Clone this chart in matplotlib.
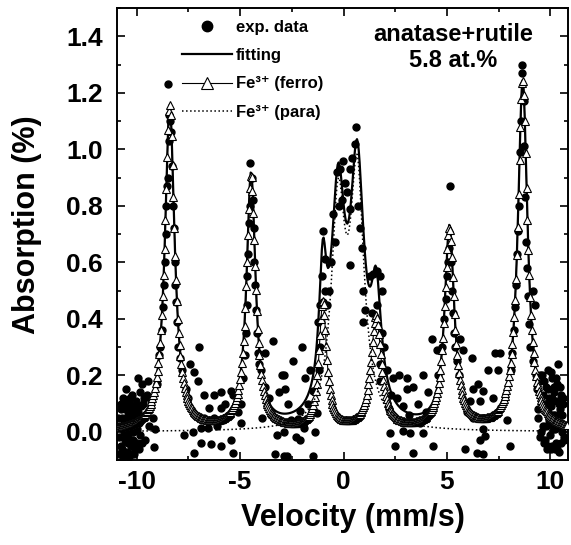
import matplotlib.pyplot as plt
import numpy as np

plt.rcParams['font.family'] = ['Liberation Sans', 'DejaVu Sans']
plt.rcParams['font.weight'] = 'bold'
plt.rcParams['axes.unicode_minus'] = False

# fitted sub-spectra (centre mm/s, height %, half width mm/s)
ferro_pos = [-8.40, -4.47, -1.00, 1.58, 5.12, 8.66]
ferro_height = [1.15, 0.90, 0.45, 0.40, 0.71, 1.24]
ferro_hwhm = [0.28, 0.26, 0.22, 0.30, 0.28, 0.28]

para_pos = [-0.26, 0.66]
para_height = [0.76, 0.86]
para_hwhm = [0.40, 0.40]

# measured points
vel_exp = [
    # left edge cluster
    -10.85, -10.80, -10.78, -10.75, -10.70, -10.68, -10.65, -10.60, -10.58, -10.55,
    -10.50, -10.48, -10.45, -10.42, -10.40, -10.38, -10.35, -10.32, -10.30, -10.28,
    -10.25, -10.22, -10.20, -10.18, -10.15, -10.12, -10.10, -10.05, -10.02, -10.00,
    -9.95, -9.92, -9.90, -9.85, -9.82, -9.78, -9.75, -9.70, -9.65, -9.60,
    -9.45, -9.40, -9.30, -9.20, -9.10, -9.15,
    -10.88, -10.83, -10.76, -10.72, -10.63, -10.61, -10.56, -10.52, -10.46, -10.43,
    -10.36, -10.33, -10.26, -10.24, -10.16, -10.13, -10.08, -10.04, -9.98, -9.88,
    -9.80, -9.72, -9.68, -9.58, -9.52,
    # line 1
    -9.00, -8.90, -8.85, -8.78, -8.72, -8.68, -8.64, -8.60, -8.56, -8.52,
    -8.50, -8.46, -8.48, -8.42, -8.38, -8.33, -8.28, -8.24, -8.20, -8.17,
    -8.14, -8.10, -8.06, -7.98, -7.92, -7.82,
    # between lines 1 and 2
    -7.40, -7.22, -7.05, -7.00, -6.76, -6.28, -5.94, -5.46, -5.32, -5.94,
    -6.52, -6.28, -6.76, -7.29, -6.91, -6.57, -6.91, -6.42, -5.94, -7.22,
    -5.32, -5.46, -4.95, -7.62, -7.52, -5.72, -5.12, -5.82, -6.12, -7.72,
    # line 2
    -4.95, -4.85, -4.77, -4.73, -4.68, -4.65, -4.61, -4.57, -4.53, -4.50,
    -4.42, -4.39, -4.35, -4.32, -4.27, -4.24, -4.19, -4.14, -4.07, -3.97,
    # between lines 2 and 3
    -3.78, -3.42, -2.90, -3.12, -3.22, -3.29, -2.90, -2.96, -2.42, -2.82,
    -1.85, -2.67, -2.09, -2.22, -1.92, -2.90, -2.72, -1.46, -2.09, -1.61,
    -1.46, -1.27, -1.37, -3.62, -3.52, -2.52, -3.82, -3.92, -2.32, -1.72,
    -2.02,
    # central lines
    -1.22, -1.12, -0.98, -1.02, -0.98, -0.88, -0.92, -0.82, -0.72, -0.62,
    -0.50, -0.40, -0.31, -0.16, -0.02, 0.08, -0.06, 0.32, 0.32, 0.42,
    0.56, 0.58, 0.71, 0.80, 0.90, 0.95, 1.04, 0.95, 1.28, 1.43,
    1.62, 1.77, 1.62, 1.86, 1.38, 0.32, -0.20, 0.18, -1.12, -1.17,
    # between lines 4 and 5
    1.77, 1.77, 2.39, 2.58, 3.07, 3.07, 3.36, 2.88, 3.84, 2.25,
    2.88, 3.21, 2.49, 3.36, 4.27, 4.51, 4.32, 3.84, 1.98, 2.08,
    2.68, 3.58, 3.98, 4.08, 4.58, 2.28, 3.18, 3.68, 1.88, 2.18,
    # line 5
    4.78, 4.88, 4.93, 4.98, 5.03, 5.08, 5.16, 5.18, 5.23, 5.28,
    5.33, 5.38, 5.48, 5.58,
    # between lines 5 and 6
    6.20, 7.31, 7.55, 7.45, 6.97, 6.49, 6.25, 6.73, 6.10, 6.58,
    7.21, 5.96, 6.25, 6.73, 7.88, 6.73, 6.58, 6.83, 5.86, 6.44,
    6.73, 8.03, 5.62, 5.77,
    # line 6
    8.08, 8.16, 8.22, 8.28, 8.33, 8.38, 8.43, 8.48, 8.53, 8.58,
    8.62, 8.65, 8.70, 8.74, 8.78, 8.83, 8.88, 8.93, 8.98, 9.03,
    9.14, 9.24, 9.18, 9.28,
    # right edge cluster
    9.35, 9.42, 9.48, 9.52, 9.58, 9.62, 9.66, 9.70, 9.73, 9.76,
    9.80, 9.84, 9.88, 9.92, 9.95, 9.98, 10.02, 10.06, 10.10, 10.14,
    10.18, 10.22, 10.27, 10.30, 10.34, 10.38, 10.42, 10.46, 10.50, 10.55,
    10.60, 10.64, 10.05, 10.20, 9.90, 10.36,
    9.38, 9.45, 9.55, 9.60, 9.68, 9.72, 9.78, 9.86, 9.90, 9.96,
    10.00, 10.04, 10.08, 10.12, 10.16, 10.24, 10.28, 10.32, 10.40, 10.44,
    10.48, 10.52, 10.58, 10.62, 10.66,
]
abs_exp = [
    # left edge cluster
    -0.08, 0.02, 0.10, -0.05, 0.05, -0.09, 0.12, 0.00, -0.03, 0.08,
    0.15, -0.07, 0.03, 0.06, -0.02, 0.10, -0.09, 0.01, 0.07, -0.05,
    0.04, 0.13, -0.03, 0.00, 0.09, -0.08, 0.05, 0.02, 0.11, -0.04,
    0.07, 0.19, 0.03, 0.14, -0.01, 0.09, 0.17, 0.05, 0.12, -0.03,
    0.18, 0.02, 0.11, 0.05, 0.01, -0.055,
    0.05, -0.02, 0.08, -0.06, 0.04, -0.07, 0.11, -0.01, 0.09, -0.04,
    0.04, 0.12, -0.08, 0.07, -0.05, 0.03, -0.06, 0.08, 0.01, -0.06,
    0.05, -0.04, 0.10, 0.06, 0.13,
    # line 1
    0.17, 0.27, 0.30, 0.36, 0.44, 0.52, 0.60, 0.70, 0.80, 0.87,
    0.90, 1.03, 1.23, 1.12, 1.10, 1.06, 0.94, 0.80, 0.72, 0.60,
    0.52, 0.46, 0.39, 0.30, 0.26, 0.22,
    # between lines 1 and 2
    0.24, 0.21, 0.18, 0.30, 0.13, 0.13, 0.14, 0.145, 0.13, 0.085,
    0.085, 0.05, 0.05, 0.00, 0.015, 0.015, -0.04, -0.045, -0.05, -0.075,
    -0.075, -0.03, 0.03, 0.15, 0.12, 0.10, 0.07, 0.04, 0.02, -0.01,
    # line 2
    0.10, 0.19, 0.27, 0.35, 0.45, 0.55, 0.63, 0.74, 0.80, 0.95,
    0.90, 0.82, 0.72, 0.60, 0.52, 0.43, 0.35, 0.28, 0.24, 0.22,
    # between lines 2 and 3
    0.28, 0.32, 0.20, 0.14, -0.01, -0.08, -0.085, 0.20, 0.25, 0.15,
    0.19, 0.10, 0.075, 0.045, 0.015, 0.00, -0.085, -0.085, -0.03, 0.22,
    0.145, 0.065, 0.00, 0.12, 0.06, 0.04, 0.16, 0.05, -0.02, 0.10,
    0.30,
    # central lines
    0.39, 0.45, 0.46, 0.55, 0.71, 0.61, 0.50, 0.45, 0.50, 0.60,
    0.77, 0.67, 0.92, 0.93, 0.96, 0.88, 0.82, 0.79, 0.93, 0.97,
    1.02, 1.08, 0.80, 0.72, 0.65, 0.50, 0.43, 0.39, 0.55, 0.56,
    0.57, 0.55, 0.45, 0.50, 0.42, 0.59, 0.80, 0.85, 0.30, 0.22,
    # between lines 4 and 5
    0.24, 0.18, 0.19, 0.12, 0.19, 0.15, 0.16, 0.09, 0.20, -0.005,
    0.003, -0.003, -0.05, -0.075, 0.33, 0.29, -0.05, -0.005, 0.30, 0.22,
    0.20, 0.10, 0.07, 0.14, 0.20, 0.13, 0.06, 0.03, 0.35, 0.08,
    # line 5
    0.30, 0.40, 0.47, 0.55, 0.60, 0.65, 0.87, 0.60, 0.50, 0.42,
    0.35, 0.30, 0.25, 0.20,
    # between lines 5 and 6
    0.26, 0.28, 0.28, 0.22, 0.22, 0.17, 0.15, 0.145, 0.11, 0.11,
    0.12, 0.07, 0.05, 0.05, 0.04, 0.01, -0.03, -0.015, -0.06, -0.075,
    -0.08, -0.05, 0.33, 0.29,
    # line 6
    0.22, 0.28, 0.36, 0.44, 0.52, 0.63, 0.71, 0.80, 0.99, 1.10,
    1.27, 1.30, 1.17, 1.01, 0.83, 0.67, 0.58, 0.48, 0.38, 0.30,
    0.50, 0.45, 0.25, 0.20,
    # right edge cluster
    0.15, 0.05, 0.20, -0.02, 0.10, 0.13, 0.02, 0.18, -0.03, 0.08,
    0.16, -0.06, 0.22, 0.04, 0.12, -0.01, 0.09, 0.19, -0.05, 0.06,
    0.14, 0.01, -0.04, 0.11, 0.17, 0.03, -0.07, 0.08, 0.13, 0.00,
    0.10, -0.03, 0.21, -0.06, 0.07, 0.24,
    0.08, 0.18, 0.00, 0.20, -0.04, 0.10, 0.02, 0.15, -0.05, 0.10,
    0.03, -0.06, 0.12, 0.01, 0.16, 0.06, 0.19, -0.06, 0.10, 0.02,
    0.16, -0.04, 0.06, 0.12, -0.02,
]

label_text = 'anatase+rutile\n5.8 at.%'


def lorentz_sum(v, pos, height, hwhm):
    total = np.zeros_like(v)
    for c, h, g in zip(pos, height, hwhm):
        total += h / (1 + ((v - c) / g) ** 2)
    return total


channels = np.linspace(-10.9, 10.8, 512)
ferro = lorentz_sum(channels, ferro_pos, ferro_height, ferro_hwhm)
para = lorentz_sum(channels, para_pos, para_height, para_hwhm)
fitting = ferro + para

fig = plt.figure(figsize=(5.71, 5.45), dpi=100)
ax = fig.add_axes([117 / 571, 85 / 545, 451 / 571, 452 / 545])

ax.plot(vel_exp, abs_exp, 'o', color='black', markersize=5, zorder=2, label='exp. data')
ax.plot(channels, fitting, '-', color='black', linewidth=1.6, zorder=3, label='fitting')
ax.plot(channels, ferro, '-', color='black', linewidth=0.8, marker='^', markersize=6,
        markerfacecolor='white', markeredgecolor='black', markeredgewidth=0.8,
        zorder=4, label='Fe³⁺ (ferro)')
ax.plot(channels, para, ':', color='black', linewidth=1.1, zorder=5, label='Fe³⁺ (para)')

ax.set_xlim(-10.95, 10.85)
ax.set_ylim(-0.1, 1.5)
ax.set_xticks([-10, -5, 0, 5, 10])
ax.set_xticks(np.arange(-10, 10.1, 2.5), minor=True)
ax.set_yticks(np.arange(0, 1.41, 0.2))
ax.set_yticks(np.arange(-0.1, 1.51, 0.1), minor=True)
ax.yaxis.set_major_formatter(plt.FormatStrFormatter('%.1f'))
ax.tick_params(which='both', direction='in', top=True, right=True, width=1.2)
ax.tick_params(which='major', length=6, labelsize=19)
ax.tick_params(axis='y', which='major', pad=10)
ax.tick_params(axis='x', which='major', pad=7)
ax.tick_params(which='minor', length=3)
for s in ax.spines.values():
    s.set_linewidth(1.4)

fig.text(353 / 571, 1 - 518 / 545, 'Velocity (mm/s)', ha='center', va='center', fontsize=22)
fig.text(27 / 571, 1 - 225 / 545, 'Absorption (%)', ha='center', va='center',
         rotation=90, fontsize=22)

ax.text(0.745, 0.913, label_text, transform=ax.transAxes, ha='center', va='center',
        fontsize=17, linespacing=1.2)

ax.legend(loc='upper left', bbox_to_anchor=(0.144, 0.974), frameon=False, fontsize=12,
          handlelength=3.0, handletextpad=0.25, labelspacing=0.8, borderpad=0,
          borderaxespad=0, markerscale=1.5)

fig.savefig('out.png', dpi=100)
